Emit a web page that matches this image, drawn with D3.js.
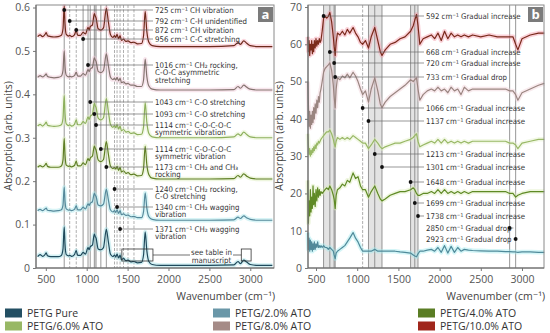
<!DOCTYPE html>
<html><head><meta charset="utf-8">
<script src="https://cdn.jsdelivr.net/npm/d3@7"></script>
<style>
body{margin:0;background:#fff}
svg{display:block}
text{font-family:'Open Sans','DejaVu Sans',sans-serif}
.ann{font-family:'Liberation Sans Narrow','DejaVu Sans Condensed','Roboto Condensed','Open Sans',sans-serif;font-stretch:condensed;fill:#333}
</style>
</head><body><svg id="c" width="550" height="333"></svg>
<script>
// ---------- DATA ----------
const seriesNames = ["PETG Pure","PETG/2.0% ATO","PETG/4.0% ATO","PETG/6.0% ATO","PETG/8.0% ATO","PETG/10.0% ATO"];

// Panel a: wavenumbers (cm-1) and absorbance
const wnA = [400,430,460,490,505,520,560,600,650,690,
710,725,735,750,780,792,815,850,872,890,
925,956,985,1016,1030,1043,1070,1093,1105,1114,
1140,1173,1205,1240,1265,1290,1320,1340,1355,1371,
1390,1408,1425,1450,1480,1505,1540,1578,1620,1670,
1695,1715,1735,1760,1800,1900,2200,2500,2800,2850,
2880,2920,2960,3000,3100,3270];
const absPure = [.026,.031,.027,.031,.035,.028,.026,.026,.026,.029,
.044,.094,.054,.031,.028,.029,.027,.031,.040,.029,
.029,.036,.032,.047,.042,.049,.053,.078,.072,.069,
.044,.042,.047,.089,.060,.032,.026,.030,.025,.032,
.023,.030,.019,.022,.017,.018,.014,.015,.012,.013,
.030,.083,.040,.015,.008,.006,.006,.006,.007,.015,
.010,.018,.013,.008,.006,.006];
const abs2 = [.132,.135,.132,.136,.138,.133,.132,.131,.132,.134,
.145,.186,.154,.136,.133,.134,.132,.135,.143,.134,
.134,.140,.136,.148,.144,.149,.153,.172,.167,.165,
.145,.143,.147,.181,.157,.134,.129,.132,.128,.134,
.126,.132,.123,.125,.121,.122,.118,.119,.116,.116,
.130,.173,.138,.118,.112,.110,.110,.110,.111,.117,
.114,.120,.115,.112,.110,.110];
const abs4 = [.232,.236,.233,.237,.241,.234,.232,.232,.232,.235,
.249,.298,.260,.237,.234,.235,.233,.236,.246,.235,
.235,.242,.238,.252,.247,.253,.258,.281,.275,.272,
.249,.245,.250,.291,.262,.235,.229,.232,.228,.234,
.225,.232,.221,.224,.218,.220,.215,.216,.212,.213,
.229,.281,.238,.215,.207,.205,.205,.205,.206,.213,
.209,.217,.211,.207,.205,.205];
const abs6 = [.327,.331,.327,.332,.336,.329,.327,.326,.327,.330,
.345,.397,.356,.332,.328,.330,.327,.331,.341,.330,
.330,.337,.333,.348,.342,.349,.354,.379,.373,.370,
.345,.341,.346,.390,.360,.331,.324,.328,.323,.330,
.320,.327,.316,.319,.313,.315,.310,.311,.307,.308,
.325,.381,.336,.310,.302,.300,.300,.300,.302,.309,
.305,.313,.307,.302,.300,.300];
const abs8 = [.439,.443,.440,.444,.447,.441,.439,.438,.439,.442,
.455,.500,.464,.444,.440,.442,.440,.443,.451,.442,
.442,.448,.444,.457,.452,.458,.462,.484,.479,.476,
.453,.450,.455,.493,.466,.440,.434,.437,.433,.439,
.431,.437,.427,.429,.424,.425,.421,.421,.418,.418,
.433,.481,.441,.419,.412,.410,.410,.410,.411,.418,
.414,.421,.416,.412,.410,.410];
const abs10 = [.533,.537,.533,.538,.542,.535,.533,.532,.533,.536,
.551,.603,.562,.538,.534,.536,.533,.537,.547,.536,
.536,.543,.539,.554,.548,.556,.560,.586,.580,.576,
.551,.548,.553,.598,.567,.538,.531,.535,.531,.538,
.528,.535,.524,.527,.522,.523,.519,.520,.516,.517,
.535,.591,.545,.520,.512,.510,.510,.510,.512,.519,
.515,.523,.517,.512,.510,.510];

// Panel b: wavenumbers and absorption (arb. units)
const wnB = [400,408,416,424,432,440,448,456,464,472,
480,490,500,510,520,530,540,550,560,575,
592,610,630,650,668,690,710,720,733,745,
760,790,820,850,880,910,950,980,1010,1040,
1066,1100,1137,1170,1213,1250,1280,1301,1340,1400,
1460,1520,1580,1648,1680,1699,1720,1738,1760,1800,
1850,1900,1940,1980,2020,2060,2100,2140,2180,2220,
2260,2300,2350,2400,2500,2600,2700,2800,2850,2890,
2923,2950,3000,3100,3200,3270];
const b10 = [62,58,61,57,60,58.5,61,57.5,60,58,
61,59,61.5,59.5,61,60,61.5,60.5,61,63.5,
67,67.5,67,67.5,68.5,66,62,59.5,57,60.5,
63,62.5,63.5,62.5,64,63,64.5,63,62,60.5,
60,61,59,62,64.5,61,58,57,58.5,60,
60.5,61.5,62,63.5,65,66.5,68,65,60,61.5,
62,62.5,61.5,63,61,63.5,61.5,63,62,62.5,
62,62.5,62,62.5,62,62.5,62,62,62,62,
60,58.5,61.5,62.5,63,63];
const b8 = [50,44,38,42,37.5,41,38.5,42,39,43,
40,44,41.5,45,43,46,44.5,47,48,50,
52.5,53.5,54,54.5,55,53,49,46,43,48,
51,50.5,51.5,51,52,51,52.5,51.5,50,48,
46.5,47.5,44.5,48,51,47.5,44,43,44.5,46,
47,48,49,50.5,50,50.5,51,48,45,46.5,
47.5,48,47.5,48.5,47.5,48,47,48.5,47.5,48,
46.5,48.5,47.5,48,48,48,48,48,47.5,47.5,
46.5,45,47,48,49,49.5];
const b6 = [36,33,30.5,32,30,31.5,30.5,32,31,32.5,
31.5,33,32,33.5,33,34,33.5,34,34.5,35,
35.5,36,36.5,36.5,37,36,34.5,33.5,32.5,34,
35,34.5,35,34.5,35,34.5,35.5,35,34.5,34,
33.5,33.5,32,33,34.5,33.5,32.5,32,32.5,33,
33.5,33.5,34,34.5,35,35.5,36,34,32.5,33,
33.5,34,33.5,34.5,33.5,34.5,33.5,34,33.5,34,
33.5,34,33.5,34,34,34,34,34,33.5,33.5,
33,32,33.5,34,34.5,34.5];
const b4 = [23.5,12,18,14,21,15,19,16,22,17,
20,16.5,21,18,21.5,19,21,19.5,20.5,20,
20.5,21,21.5,21,22,21,19.5,18.5,16,19.5,
21,21.5,22.5,22,23.5,23,25.5,24,24.5,22,
21,21,19,20.5,22,20,18.5,18,18.5,19.5,
20,20.5,20.5,21,21.5,21,20,19.5,19.5,20,
20,20.5,20,21,20,21,20,20.5,20,20.5,
20,20.5,20,20.5,20.5,20.5,20.5,20.5,20,20,
19,19.5,20,20.5,20.5,20.5];
const b2 = [9.5,5,8,4.5,7.5,5,7,4.5,6.5,5,
7,5,6.5,5.5,7,5.5,6,5.5,6,5.5,
6,5.5,5.5,5,5.5,5,4.5,3.5,2.5,4,
4.5,5,5.5,6,7,8,9.5,8,7,5.5,
4.5,4.5,4.5,4.5,5,4.5,4.5,4.5,4.5,4.5,
4.5,4.3,4.2,4,3.5,3.2,3,3.8,4.5,4.5,
4.8,5,4.5,5.5,4.2,6,4,5.8,4.2,5.5,
4.5,5,4.8,4.7,4.6,4.5,4.5,4.4,4.4,4.3,
4.3,4.2,4.3,4.3,4.2,4.2];

const ticksYA = [0,0.1,0.2,0.3,0.4,0.5,0.6];
const ticksYB = [0,10,20,30,40,50,60,70];
const ticksX = [500,1000,1500,2000,2500,3000];

// annotations panel a
const annWnA = [725,792,872,956,1016,1043,1093,1114,1173,1240,1340,1371,1408];
const annTextA = [
 ["725 cm⁻¹ CH vibration"],
 ["792 cm⁻¹ C-H unidentified"],
 ["872 cm⁻¹ CH vibration"],
 ["956 cm⁻¹ C-C stretching"],
 ["1016 cm⁻¹ CH₂ rocking,","C-O-C asymmetric","stretching"],
 ["1043 cm⁻¹ C-O stretching"],
 ["1093 cm⁻¹ C-O stretching"],
 ["1114 cm⁻¹ C-O-C-O-C","symmetric vibration"],
 ["1114 cm⁻¹ C-O-C-O-C","symmetric vibration"],
 ["1173 cm⁻¹ CH₂ and CH₃","rocking"],
 ["1240 cm⁻¹ CH₂ rocking,","C-O stretching"],
 ["1340 cm⁻¹ CH₂ wagging","vibration"],
 ["1371 cm⁻¹ CH₂ wagging","vibration"]
];
const solidLinesA = [725,956,1016,1043,1093,1114,1173,1240];
const dashedLinesA = [792,872,1340,1371,1408,1450,1505,1578];
const bandA = [[1093,1114]];
const tableBoxesA = [[1430,1810],[2890,3010]];

// annotations panel b
const annWnB = [592,668,720,733,1066,1137,1213,1301,1648,1699,1738,2850,2923];
const annTextB = ["592 cm⁻¹ Gradual increase","668 cm⁻¹ Gradual increase","720 cm⁻¹ Gradual increase",
 "733 cm⁻¹ Gradual drop","1066 cm⁻¹ Gradual increase","1137 cm⁻¹ Gradual increase",
 "1213 cm⁻¹ Gradual increase","1301 cm⁻¹ Gradual increase","1648 cm⁻¹ Gradual increase",
 "1699 cm⁻¹ Gradual increase","1738 cm⁻¹ Gradual increase","2850 cm⁻¹ Gradual drop","2923 cm⁻¹ Gradual drop"];
const solidLinesB = [592,668,720,733,1137,1213,1301,1648,1699,1738,2850,2923];
const dashedLinesB = [1066];
const bandsB = [[592,733],[1137,1301],[1648,1738]];

// ---------- STYLE / LAYOUT ----------
const legendColors = ["#234f63","#6a97a8","#5a7d24","#98b865","#a58b87","#a0261c"];
const lineColorsA = ["#1f4a5c","#55899b","#5f7f25","#8db05c","#857470","#6e2a1c"];
const glowColorsA = ["#9fe0e6","#a9e6ec","#d9ecb5","#e2f0c8","#f0c8d8","#f6a9b9"];
const lineColorsB = ["#4f8a9a","#5f8a25","#98b865","#9a8580","#7a2a1c"];
const glowColorsB = ["#9fe8ee","#d9ecb5","#e2f0c8","#f0d0d8","#f49aa8"];
const labelYA = [10,21,30,39,65,102,114,125,149,167,189,207,229];
const labelYB = [16,52,63,77,108,121,154,167,182,203,216,228,239];

const svg = d3.select("#c");
const plotTop = 5, plotBottom = 268;
const xA = d3.scaleLinear().domain([380,3290]).range([36,274]);
const yA = d3.scaleLinear().domain([0,0.6]).range([plotBottom,7.5]);
const xB = d3.scaleLinear().domain([403,3267]).range([308,544]);
const yB = d3.scaleLinear().domain([0,70]).range([plotBottom,7]);

function bands(g, x, list){
  g.selectAll(null).data(list).join("rect")
   .attr("x",d=>x(d[0])).attr("width",d=>x(d[1])-x(d[0]))
   .attr("y",plotTop).attr("height",plotBottom-plotTop).attr("fill","#dcdcdc").attr("opacity",0.8);
}
function vlines(g, x, list, dashed){
  g.selectAll(null).data(list).join("line")
   .attr("x1",d=>x(d)).attr("x2",d=>x(d)).attr("y1",plotTop).attr("y2",plotBottom)
   .attr("stroke",dashed?"#9a9a9a":"#7d7d7d").attr("stroke-width",0.8)
   .attr("stroke-dasharray",dashed?"3,1.5":null);
}
function spectra(g, x, y, wn, arrs, colors, glows, curve){
  arrs.forEach((arr,i)=>{
    const pts = wn.map((w,j)=>[w,arr[j]]);
    const line = d3.line().x(d=>x(d[0])).y(d=>y(d[1])).curve(curve);
    g.append("path").attr("d",line(pts)).attr("fill","none").attr("stroke",glows[i])
      .attr("stroke-width",4.5).attr("opacity",0.45).attr("stroke-linejoin","round");
    g.append("path").attr("d",line(pts)).attr("fill","none").attr("stroke",colors[i])
      .attr("stroke-width",1.2).attr("stroke-linejoin","round");
  });
}
function axes(x, y, yTicks, fmt, left, right){
  const gy = svg.append("g").attr("transform",`translate(${left},0)`)
    .call(d3.axisLeft(y).tickValues(yTicks).tickSize(3).tickPadding(3).tickFormat(fmt));
  const gx = svg.append("g").attr("transform",`translate(0,${plotBottom})`)
    .call(d3.axisBottom(x).tickValues(ticksX).tickSize(3).tickPadding(5).tickFormat(d3.format("d")));
  [gx,gy].forEach(g=>{
    g.select(".domain").remove();
    g.selectAll(".tick line").attr("stroke","#777");
    g.selectAll(".tick text").attr("fill","#555").attr("font-size",10.5)
      .attr("font-family","'Open Sans',sans-serif");
  });
  svg.append("rect").attr("x",left).attr("y",plotTop).attr("width",right-left).attr("height",plotBottom-plotTop)
    .attr("fill","none").attr("stroke","#8a8a8a").attr("stroke-width",1);
  svg.append("line").attr("x1",left).attr("x2",left).attr("y1",plotTop).attr("y2",plotBottom)
    .attr("stroke","#666").attr("stroke-width",1);
  svg.append("line").attr("x1",left).attr("x2",right).attr("y1",plotBottom).attr("y2",plotBottom)
    .attr("stroke","#666").attr("stroke-width",1);
}

// ---------- PANEL A ----------
const gA = svg.append("g");
bands(gA, xA, bandA);
vlines(gA, xA, solidLinesA, false);
vlines(gA, xA, dashedLinesA, true);
spectra(gA, xA, yA, wnA, [absPure,abs2,abs4,abs6,abs8,abs10], lineColorsA, glowColorsA, d3.curveMonotoneX);

const labXA = 155;
annWnA.forEach((w,i)=>{
  const yy = labelYA[i];
  gA.append("line").attr("x1",xA(w)).attr("x2",labXA-2).attr("y1",yy).attr("y2",yy)
    .attr("stroke","#6a6a6a").attr("stroke-width",0.7);
  gA.append("circle").attr("cx",xA(w)).attr("cy",yy).attr("r",1.9).attr("fill","#111");
  const t = gA.append("text").attr("class","ann").attr("x",labXA).attr("y",yy+2.6).attr("font-size",7.8);
  annTextA[i].forEach((s,k)=>t.append("tspan").attr("x",labXA).attr("dy",k?7.6:0).text(s));
});
// see table boxes
tableBoxesA.forEach(b=>{
  gA.append("rect").attr("x",xA(b[0])).attr("y",249).attr("width",xA(b[1])-xA(b[0])).attr("height",12)
    .attr("fill","none").attr("stroke","#333").attr("stroke-width",0.8);
});
gA.append("line").attr("x1",xA(tableBoxesA[0][1])).attr("x2",190).attr("y1",255).attr("y2",255).attr("stroke","#333").attr("stroke-width",0.7);
gA.append("line").attr("x1",233).attr("x2",xA(tableBoxesA[1][0])).attr("y1",255).attr("y2",255).attr("stroke","#333").attr("stroke-width",0.7);
const st = gA.append("text").attr("class","ann").attr("x",211.5).attr("y",254.5).attr("text-anchor","middle").attr("font-size",7.8);
st.append("tspan").attr("x",211.5).text("see table in");
st.append("tspan").attr("x",211.5).attr("dy",8).text("manuscript");

axes(xA, yA, ticksYA, d=>d===0?"0":d.toFixed(1), 36, 274);

// ---------- PANEL B ----------
const gB = svg.append("g");
bands(gB, xB, bandsB);
vlines(gB, xB, solidLinesB, false);
vlines(gB, xB, dashedLinesB, true);
spectra(gB, xB, yB, wnB, [b2,b4,b6,b8,b10], lineColorsB, glowColorsB, d3.curveLinear);

const labXB = 426;
annWnB.forEach((w,i)=>{
  const yy = labelYB[i];
  const t = gB.append("text").attr("class","ann").attr("x",labXB).attr("y",yy+2.8).attr("font-size",7.8).text(annTextB[i]);
  const px = xB(w);
  if (px < labXB) {
    gB.append("line").attr("x1",px).attr("x2",labXB-2).attr("y1",yy).attr("y2",yy).attr("stroke","#6a6a6a").attr("stroke-width",0.7);
  } else {
    const tw = t.node().getComputedTextLength();
    gB.append("line").attr("x1",labXB+tw+2).attr("x2",px).attr("y1",yy).attr("y2",yy).attr("stroke","#6a6a6a").attr("stroke-width",0.7);
  }
  gB.append("circle").attr("cx",px).attr("cy",yy).attr("r",1.9).attr("fill","#111");
});

axes(xB, yB, ticksYB, d3.format("d"), 308, 544);

// panel letters
[["a",258],["b",528]].forEach(([s,x])=>{
  svg.append("rect").attr("x",x).attr("y",7).attr("width",15).attr("height",15).attr("fill","#7b7b7b");
  svg.append("text").attr("x",x+7.5).attr("y",19).attr("text-anchor","middle").attr("fill","#fff")
    .attr("font-size",13).attr("font-weight","bold").text(s);
});

// axis titles
[12,283].forEach(x=>{
  svg.append("text").attr("transform",`translate(${x},136) rotate(-90)`).attr("text-anchor","middle")
    .attr("fill","#444").attr("font-size",10.5).text("Absorption (arb. units)");
});
[275,545].forEach(x=>{
  svg.append("text").attr("x",x).attr("y",300).attr("text-anchor","end")
    .attr("fill","#444").attr("font-size",10.5).text("Wavenumber (cm⁻¹)");
});

// legend
const legX = [5,213,418];
seriesNames.forEach((n,i)=>{
  const col = i%3, row = i<3?0:1;
  const lx = legX[col], ly = 313 + row*13;
  svg.append("rect").attr("x",lx).attr("y",ly-4.5).attr("width",17).attr("height",9).attr("fill",legendColors[i]);
  svg.append("text").attr("x",lx+22).attr("y",ly+3.8).attr("fill","#333").attr("font-size",10.5).text(n);
});
</script>
</body></html>
